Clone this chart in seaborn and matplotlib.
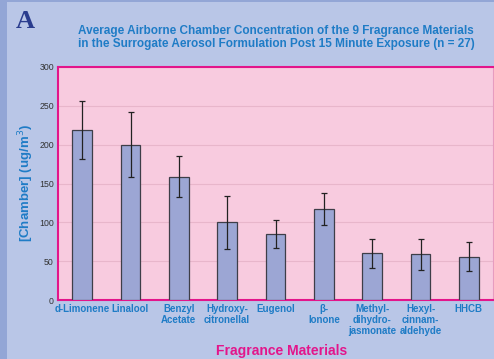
import matplotlib
matplotlib.use("Agg")
import matplotlib.pyplot as plt
import matplotlib.patches as mpatches
import seaborn as sns
import pandas as pd
import numpy as np

categories = ["d-Limonene", "Linalool", "Benzyl\nAcetate", "Hydroxy-\ncitronellal",
              "Eugenol", "β-\nIonone", "Methyl-\ndihydro-\njasmonate",
              "Hexyl-\ncinnam-\naldehyde", "HHCB"]
means = [219, 200, 159, 100, 85, 117, 60, 59, 56]
errors = [37, 42, 26, 34, 18, 21, 19, 20, 19]
yticks = [0, 50, 100, 150, 200, 250, 300]

sns.set_theme(style="white")
plt.rcParams['font.family'] = ['Liberation Sans', 'DejaVu Sans']

fig_bg = "#B9C6E7"
plot_bg = "#F8CBDF"
bar_col = "#9CA6D4"
blue = "#1F7CC6"
magenta = "#E3158B"

fig = plt.figure(figsize=(4.94, 3.59), dpi=100)
fig.patch.set_facecolor(fig_bg)
# darker outer frame strips
fig.patches.append(mpatches.Rectangle((0, 0), 7/494, 1, transform=fig.transFigure,
                                      facecolor="#93A6D6", edgecolor="none", zorder=0))
fig.patches.append(mpatches.Rectangle((0, 1-2/359), 1, 2/359, transform=fig.transFigure,
                                      facecolor="#93A6D6", edgecolor="none", zorder=0))

ax = fig.add_axes([58/494, 1-300/359, 435/494, 233/359])
ax.set_facecolor(plot_bg)

df = pd.DataFrame({"cat": categories, "val": means})
sns.barplot(data=df, x="cat", y="val", color=bar_col, saturation=1, width=0.41,
            edgecolor="#3E3E48", linewidth=0.9, ax=ax, zorder=3)
ax.errorbar(np.arange(len(categories)), means, yerr=errors, fmt="none",
            ecolor="#222222", elinewidth=0.9, capsize=2.2, capthick=0.9, zorder=4)

ax.set_ylim(0, 300)
ax.set_xlim(-0.5, len(categories) - 0.5)
ax.set_yticks(yticks)
ax.set_yticklabels([str(v) for v in yticks], fontsize=6.3, color="#333333")
ax.yaxis.grid(True, color="#E8B6CB", linewidth=0.8, zorder=0)
ax.set_axisbelow(True)
ax.tick_params(axis="both", length=0, pad=3)
for lab in ax.get_xticklabels():
    lab.set_fontsize(7)
    lab.set_fontweight("bold")
    lab.set_color(blue)
    lab.set_linespacing(1.1)
ax.tick_params(axis="x", pad=3)

for s in ["top", "left", "bottom"]:
    ax.spines[s].set_color(magenta)
    ax.spines[s].set_linewidth(1.5)
ax.spines["right"].set_color("#E79CC0")
ax.spines["right"].set_linewidth(0.8)

ax.set_xlabel("")
ax.set_ylabel("")
fig.text(282/494, 1-351/359, "Fragrance Materials", ha="center", va="center",
         fontsize=10, fontweight="bold", color=magenta)
fig.text(26/494, 1-183/359, "[Chamber] (ug/m$^{3}$)", ha="center", va="center", rotation=90,
         fontsize=9.5, fontweight="bold", color=blue)

fig.text(276/494, 1-31/359, "Average Airborne Chamber Concentration of the 9 Fragrance Materials",
         ha="center", va="center", fontsize=8.5, fontweight="bold", color=blue)
fig.text(276/494, 1-44/359, "in the Surrogate Aerosol Formulation Post 15 Minute Exposure (n = 27)",
         ha="center", va="center", fontsize=8.5, fontweight="bold", color=blue)
fig.text(16/494, 1-21/359, "A", ha="left", va="center", fontsize=19, fontweight="bold",
         color="#2A3C8E", family=["Liberation Serif", "DejaVu Serif"])

fig.savefig("out.png", dpi=100, facecolor=fig.get_facecolor())
